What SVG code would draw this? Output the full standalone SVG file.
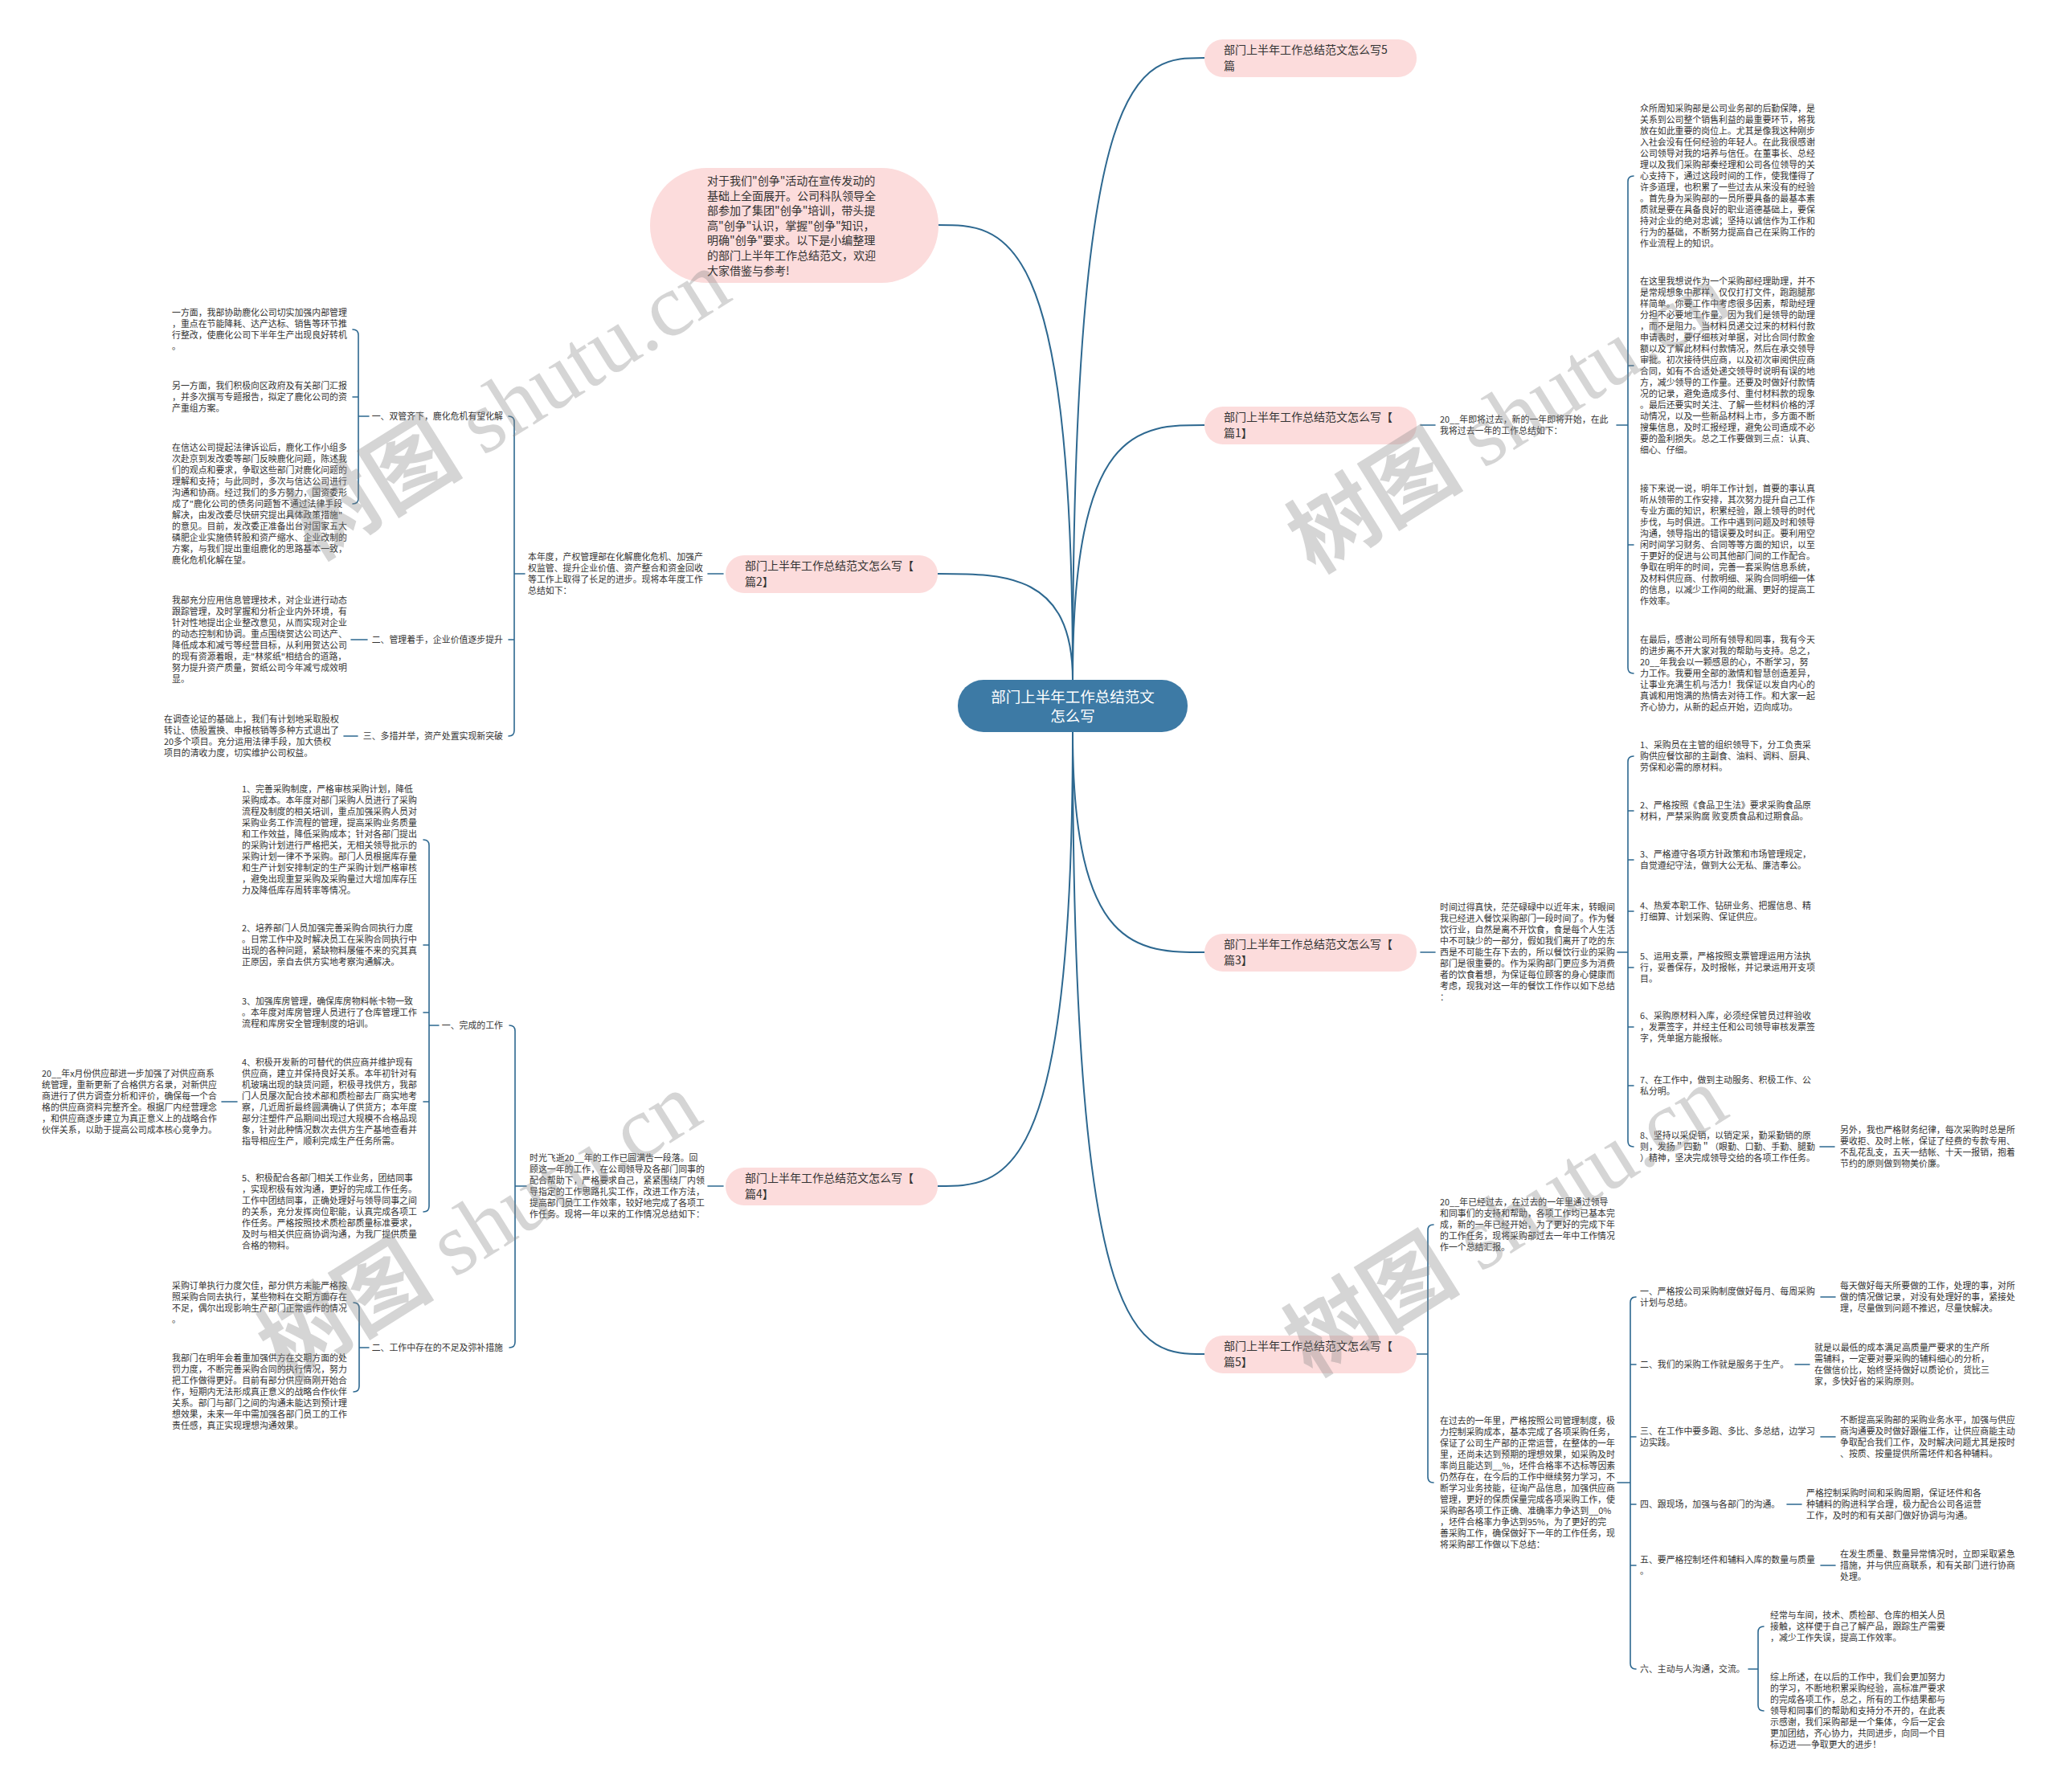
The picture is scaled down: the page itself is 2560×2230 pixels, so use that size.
<svg xmlns="http://www.w3.org/2000/svg" width="2560" height="2230" viewBox="0 0 2560 2230">
<style>
.t{font-family:"Noto Sans CJK SC","Noto Sans",sans-serif;font-size:10.9px;fill:#333}
.n{font-family:"Noto Sans CJK SC","Noto Sans",sans-serif;font-size:14px;fill:#333}
.c{font-family:"Noto Sans CJK SC","Noto Sans",sans-serif;font-size:18.5px;fill:#fff;text-anchor:middle}
.e{text-anchor:end}
.pk{fill:#fcdcdc}
.ln{fill:none;stroke:#2d6890;stroke-width:1.6;stroke-linecap:round}
.mn{fill:none;stroke:#2d6890;stroke-width:2}
.wm{font-size:110px;fill:#888;opacity:.35}
.wc{font-family:"Noto Sans CJK SC",sans-serif;font-weight:bold}
.ws{font-family:"Liberation Serif",serif}
</style>
<rect width="2560" height="2230" fill="#fff"/>
<g id="connectors">
<path class="mn" d="M1335 846 C1335 72 1417 72 1499 72"/>
<path class="mn" d="M1335 846 C1335 280 1251 280 1167 280"/>
<path class="mn" d="M1335 846 C1335 529 1417 529 1499 529"/>
<path class="mn" d="M1335 846 C1335 714 1251 714 1167 714"/>
<path class="mn" d="M1335 911 C1335 1185 1417 1185 1499 1185"/>
<path class="mn" d="M1335 911 C1335 1476 1251 1476 1167 1476"/>
<path class="mn" d="M1335 911 C1335 1685 1417 1685 1499 1685"/>
<path class="ln" d="M1768 529 L1786 529 M2012 529 L2026 529 M2033 219 Q2026 219 2026 226 L2026 831 Q2026 838 2033 838 M2026 455 L2033 455 M2026 678 L2033 678"/>
<path class="ln" d="M1768 1185 L1786 1185 M2013 1185 L2026 1185 M2033 941 Q2026 941 2026 948 L2026 1420 Q2026 1427 2033 1427 M2026 1009 L2033 1009 M2026 1070 L2033 1070 M2026 1134 L2033 1134 M2026 1204 L2033 1204 M2026 1278 L2033 1278 M2026 1351 L2033 1351 M2265 1427 L2283 1427"/>
<path class="ln" d="M1763 1685 L1777 1685 M1784 1524 Q1777 1524 1777 1531 L1777 1838 Q1777 1845 1784 1845 M2013 1845 L2029 1845 M2036 1614 Q2029 1614 2029 1621 L2029 2070 Q2029 2077 2036 2077 M2029 1698 L2036 1698 M2029 1788 L2036 1788 M2029 1872 L2036 1872 M2029 1948 L2036 1948 M2266 1614 L2284 1614 M2234 1698 L2252 1698 M2266 1788 L2284 1788 M2224 1872 L2242 1872 M2266 1948 L2284 1948 M2176 2077 L2188 2077 M2195 2024 Q2188 2024 2188 2031 L2188 2122 Q2188 2129 2195 2129"/>
<path class="ln" d="M881 714 L900 714 M640 714 L653 714 M633 518 Q640 518 640 525 L640 909 Q640 916 633 916 M640 796 L633 796 M446 518 L459 518 M439 410 Q446 410 446 417 L446 620 Q446 627 439 627 M446 494 L439 494 M437 796 L457 796 M428 916 L445 916"/>
<path class="ln" d="M881 1476 L900 1476 M641 1476 L655 1476 M634 1276 Q641 1276 641 1283 L641 1670 Q641 1677 634 1677 M534 1276 L546 1276 M527 1045 Q534 1045 534 1052 L534 1501 Q534 1508 527 1508 M534 1176 L527 1176 M534 1260 L527 1260 M534 1371 L527 1371 M276 1371 L295 1371 M447 1677 L459 1677 M440 1621 Q447 1621 447 1628 L447 1725 Q447 1732 440 1732"/>
</g>
<g id="center">
<rect x="1192" y="846" width="286" height="65" rx="32" fill="#3d7aa5"/>
<text class="c" x="1335" y="874">部门上半年工作总结范文</text>
<text class="c" x="1335" y="898">怎么写</text>
</g>
<g id="intro">
<rect class="pk" x="809" y="209" width="359" height="143" rx="71"/>
<text class="n" x="880" y="230"><tspan x="880">对于我们"创争"活动在宣传发动的</tspan><tspan x="880" dy="18.6">基础上全面展开。公司科队领导全</tspan><tspan x="880" dy="18.6">部参加了集团"创争"培训，带头提</tspan><tspan x="880" dy="18.6">高"创争"认识，掌握"创争"知识，</tspan><tspan x="880" dy="18.6">明确"创争"要求。以下是小编整理</tspan><tspan x="880" dy="18.6">的部门上半年工作总结范文，欢迎</tspan><tspan x="880" dy="18.6">大家借鉴与参考!</tspan></text>
</g>
<g id="p5top">
<rect class="pk" x="1499" y="49" width="264" height="47" rx="23"/>
<text class="n" x="1523" y="67"><tspan x="1523">部门上半年工作总结范文怎么写5</tspan><tspan x="1523" dy="20">篇</tspan></text>
</g>
<g id="p1">
<rect class="pk" x="1499" y="506" width="264" height="47" rx="23"/>
<text class="n" x="1523" y="524"><tspan x="1523">部门上半年工作总结范文怎么写【</tspan><tspan x="1523" dy="20">篇1】</tspan></text>
</g>
<g id="p1-intro">
<text class="t" x="1792" y="526"><tspan x="1792">20__年即将过去，新的一年即将开始，在此</tspan><tspan x="1792" dy="14">我将过去一年的工作总结如下：</tspan></text>
</g>
<g id="p1-b1">
<text class="t" x="2041" y="139"><tspan x="2041">众所周知采购部是公司业务部的后勤保障，是</tspan><tspan x="2041" dy="14">关系到公司整个销售利益的最重要环节，将我</tspan><tspan x="2041" dy="14">放在如此重要的岗位上。尤其是像我这种刚步</tspan><tspan x="2041" dy="14">入社会没有任何经验的年轻人。在此我很感谢</tspan><tspan x="2041" dy="14">公司领导对我的培养与信任。在董事长、总经</tspan><tspan x="2041" dy="14">理以及我们采购部秦经理和公司各位领导的关</tspan><tspan x="2041" dy="14">心支持下，通过这段时间的工作，使我懂得了</tspan><tspan x="2041" dy="14">许多道理，也积累了一些过去从来没有的经验</tspan><tspan x="2041" dy="14">。首先身为采购部的一员所要具备的最基本素</tspan><tspan x="2041" dy="14">质就是要在具备良好的职业道德基础上，要保</tspan><tspan x="2041" dy="14">持对企业的绝对忠诚；坚持以诚信作为工作和</tspan><tspan x="2041" dy="14">行为的基础，不断努力提高自己在采购工作的</tspan><tspan x="2041" dy="14">作业流程上的知识。</tspan></text>
</g>
<g id="p1-b2">
<text class="t" x="2041" y="354"><tspan x="2041">在这里我想说作为一个采购部经理助理，并不</tspan><tspan x="2041" dy="14">是常规想象中那样，仅仅打打文件，跑跑腿那</tspan><tspan x="2041" dy="14">样简单。你要工作中考虑很多因素，帮助经理</tspan><tspan x="2041" dy="14">分担不必要地工作量。因为我们是领导的助理</tspan><tspan x="2041" dy="14">，而不是阻力。当材料员递交过来的材料付款</tspan><tspan x="2041" dy="14">申请表时，要仔细核对单据，对比合同付款金</tspan><tspan x="2041" dy="14">额以及了解此材料付款情况，然后在承交领导</tspan><tspan x="2041" dy="14">审批。初次接待供应商，以及初次审阅供应商</tspan><tspan x="2041" dy="14">合同，如有不合适处递交领导时说明有误的地</tspan><tspan x="2041" dy="14">方，减少领导的工作量。还要及时做好付款情</tspan><tspan x="2041" dy="14">况的记录，避免造成多付、重付材料款的现象</tspan><tspan x="2041" dy="14">。最后还要实时关注、了解一些材料价格的浮</tspan><tspan x="2041" dy="14">动情况，以及一些新品材料上市，多方面不断</tspan><tspan x="2041" dy="14">搜集信息，及时汇报经理，避免公司造成不必</tspan><tspan x="2041" dy="14">要的盈利损失。总之工作要做到三点：认真、</tspan><tspan x="2041" dy="14">细心、仔细。</tspan></text>
</g>
<g id="p1-b3">
<text class="t" x="2041" y="612"><tspan x="2041">接下来说一说，明年工作计划，首要的事认真</tspan><tspan x="2041" dy="14">听从领带的工作安排，其次努力提升自己工作</tspan><tspan x="2041" dy="14">专业方面的知识，积累经验，跟上领导的时代</tspan><tspan x="2041" dy="14">步伐，与时俱进。工作中遇到问题及时和领导</tspan><tspan x="2041" dy="14">沟通，领导指出的错误要及时纠正。要利用空</tspan><tspan x="2041" dy="14">闲时间学习财务、合同等等方面的知识，以至</tspan><tspan x="2041" dy="14">于更好的促进与公司其他部门间的工作配合。</tspan><tspan x="2041" dy="14">争取在明年的时间，完善一套采购信息系统，</tspan><tspan x="2041" dy="14">及材料供应商、付款明细、采购合同明细一体</tspan><tspan x="2041" dy="14">的信息，以减少工作间的纰漏、更好的提高工</tspan><tspan x="2041" dy="14">作效率。</tspan></text>
</g>
<g id="p1-b4">
<text class="t" x="2041" y="800"><tspan x="2041">在最后，感谢公司所有领导和同事，我有今天</tspan><tspan x="2041" dy="14">的进步离不开大家对我的帮助与支持。总之，</tspan><tspan x="2041" dy="14">20__年我会以一颗感恩的心，不断学习，努</tspan><tspan x="2041" dy="14">力工作。我要用全部的激情和智慧创造差异，</tspan><tspan x="2041" dy="14">让事业充满生机与活力！我保证以发自内心的</tspan><tspan x="2041" dy="14">真诚和用饱满的热情去对待工作。和大家一起</tspan><tspan x="2041" dy="14">齐心协力，从新的起点开始，迈向成功。</tspan></text>
</g>
<g id="p2">
<rect class="pk" x="903" y="691" width="264" height="47" rx="23"/>
<text class="n" x="927" y="709"><tspan x="927">部门上半年工作总结范文怎么写【</tspan><tspan x="927" dy="20">篇2】</tspan></text>
</g>
<g id="p2-intro">
<text class="t" x="657" y="697"><tspan x="657">本年度，产权管理部在化解鹿化危机、加强产</tspan><tspan x="657" dy="14">权监管、提升企业价值、资产整合和资金回收</tspan><tspan x="657" dy="14">等工作上取得了长足的进步。现将本年度工作</tspan><tspan x="657" dy="14">总结如下：</tspan></text>
</g>
<g id="p2-l1"><text class="t e" x="626" y="522">一、双管齐下，鹿化危机有望化解</text></g>
<g id="p2-l2"><text class="t e" x="626" y="800">二、管理着手，企业价值逐步提升</text></g>
<g id="p2-l3"><text class="t e" x="626" y="920">三、多措并举，资产处置实现新突破</text></g>
<g id="p2-a">
<text class="t" x="214" y="393"><tspan x="214">一方面，我部协助鹿化公司切实加强内部管理</tspan><tspan x="214" dy="14">，重点在节能降耗、达产达标、销售等环节推</tspan><tspan x="214" dy="14">行整改，使鹿化公司下半年生产出现良好转机</tspan><tspan x="214" dy="14">。</tspan></text>
</g>
<g id="p2-b">
<text class="t" x="214" y="484"><tspan x="214">另一方面，我们积极向区政府及有关部门汇报</tspan><tspan x="214" dy="14">，并多次撰写专题报告，拟定了鹿化公司的资</tspan><tspan x="214" dy="14">产重组方案。</tspan></text>
</g>
<g id="p2-c">
<text class="t" x="214" y="561"><tspan x="214">在信达公司提起法律诉讼后，鹿化工作小组多</tspan><tspan x="214" dy="14">次赴京到发改委等部门反映鹿化问题，陈述我</tspan><tspan x="214" dy="14">们的观点和要求，争取这些部门对鹿化问题的</tspan><tspan x="214" dy="14">理解和支持；与此同时，多次与信达公司进行</tspan><tspan x="214" dy="14">沟通和协商。经过我们的多方努力，国资委形</tspan><tspan x="214" dy="14">成了"鹿化公司的债务问题暂不通过法律手段</tspan><tspan x="214" dy="14">解决，由发改委尽快研究提出具体政策措施"</tspan><tspan x="214" dy="14">的意见。目前，发改委正准备出台对国家五大</tspan><tspan x="214" dy="14">磷肥企业实施债转股和资产缩水、企业改制的</tspan><tspan x="214" dy="14">方案，与我们提出重组鹿化的思路基本一致，</tspan><tspan x="214" dy="14">鹿化危机化解在望。</tspan></text>
</g>
<g id="p2-d">
<text class="t" x="214" y="751"><tspan x="214">我部充分应用信息管理技术，对企业进行动态</tspan><tspan x="214" dy="14">跟踪管理，及时掌握和分析企业内外环境，有</tspan><tspan x="214" dy="14">针对性地提出企业整改意见，从而实现对企业</tspan><tspan x="214" dy="14">的动态控制和协调。重点围绕贺达公司达产、</tspan><tspan x="214" dy="14">降低成本和减亏等经营目标，从利用贺达公司</tspan><tspan x="214" dy="14">的现有资源着眼，走"林浆纸"相结合的道路，</tspan><tspan x="214" dy="14">努力提升资产质量，贺纸公司今年减亏成效明</tspan><tspan x="214" dy="14">显。</tspan></text>
</g>
<g id="p2-e">
<text class="t" x="204" y="899"><tspan x="204">在调查论证的基础上，我们有计划地采取股权</tspan><tspan x="204" dy="14">转让、债股置换、申报核销等多种方式退出了</tspan><tspan x="204" dy="14">20多个项目。充分运用法律手段，加大债权</tspan><tspan x="204" dy="14">项目的清收力度，切实维护公司权益。</tspan></text>
</g>
<g id="p3">
<rect class="pk" x="1499" y="1162" width="264" height="47" rx="23"/>
<text class="n" x="1523" y="1180"><tspan x="1523">部门上半年工作总结范文怎么写【</tspan><tspan x="1523" dy="20">篇3】</tspan></text>
</g>
<g id="p3-intro">
<text class="t" x="1792" y="1133"><tspan x="1792">时间过得真快，茫茫碌碌中以近年末，转眼间</tspan><tspan x="1792" dy="14">我已经进入餐饮采购部门一段时间了。作为餐</tspan><tspan x="1792" dy="14">饮行业，自然是离不开饮食，食是每个人生活</tspan><tspan x="1792" dy="14">中不可缺少的一部分，假如我们离开了吃的东</tspan><tspan x="1792" dy="14">西是不可能生存下去的，所以餐饮行业的采购</tspan><tspan x="1792" dy="14">部门是很重要的。作为采购部门更应多为消费</tspan><tspan x="1792" dy="14">者的饮食着想，为保证每位顾客的身心健康而</tspan><tspan x="1792" dy="14">考虑，现我对这一年的餐饮工作作以如下总结</tspan><tspan x="1792" dy="14">：</tspan></text>
</g>
<g id="p3-i1"><text class="t" x="2041" y="931"><tspan x="2041">1、采购员在主管的组织领导下，分工负责采</tspan><tspan x="2041" dy="14">购供应餐饮部的主副食、油料、调料、厨具、</tspan><tspan x="2041" dy="14">劳保和必需的原材料。</tspan></text></g>
<g id="p3-i2"><text class="t" x="2041" y="1006"><tspan x="2041">2、严格按照《食品卫生法》要求采购食品原</tspan><tspan x="2041" dy="14">材料，严禁采购腐 败变质食品和过期食品。</tspan></text></g>
<g id="p3-i3"><text class="t" x="2041" y="1067"><tspan x="2041">3、严格遵守各项方针政策和市场管理规定，</tspan><tspan x="2041" dy="14">自觉遵纪守法，做到大公无私、廉洁奉公。</tspan></text></g>
<g id="p3-i4"><text class="t" x="2041" y="1131"><tspan x="2041">4、热爱本职工作、钻研业务、把握信息、精</tspan><tspan x="2041" dy="14">打细算、计划采购、保证供应。</tspan></text></g>
<g id="p3-i5"><text class="t" x="2041" y="1194"><tspan x="2041">5、运用支票，严格按照支票管理运用方法执</tspan><tspan x="2041" dy="14">行，妥善保存，及时报帐，并记录运用开支项</tspan><tspan x="2041" dy="14">目。</tspan></text></g>
<g id="p3-i6"><text class="t" x="2041" y="1268"><tspan x="2041">6、采购原材料入库，必须经保管员过秤验收</tspan><tspan x="2041" dy="14">，发票签字，并经主任和公司领导审核发票签</tspan><tspan x="2041" dy="14">字，凭单据方能报帐。</tspan></text></g>
<g id="p3-i7"><text class="t" x="2041" y="1348"><tspan x="2041">7、在工作中，做到主动服务、积极工作、公</tspan><tspan x="2041" dy="14">私分明。</tspan></text></g>
<g id="p3-i8"><text class="t" x="2041" y="1417"><tspan x="2041">8、坚持以采促销，以销定采，勤采勤销的原</tspan><tspan x="2041" dy="14">则，发扬＂四勤＂（眼勤、口勤、手勤、腿勤</tspan><tspan x="2041" dy="14">）精神，坚决完成领导交给的各项工作任务。</tspan></text></g>
<g id="p3-i8c"><text class="t" x="2290" y="1410"><tspan x="2290">另外，我也严格财务纪律，每次采购时总是所</tspan><tspan x="2290" dy="14">要收拒、及时上帐，保证了经费的专款专用、</tspan><tspan x="2290" dy="14">不乱花乱支，五天一结帐、十天一报销，抱着</tspan><tspan x="2290" dy="14">节约的原则做到物美价廉。</tspan></text></g>
<g id="p4">
<rect class="pk" x="903" y="1453" width="264" height="47" rx="23"/>
<text class="n" x="927" y="1471"><tspan x="927">部门上半年工作总结范文怎么写【</tspan><tspan x="927" dy="20">篇4】</tspan></text>
</g>
<g id="p4-intro">
<text class="t" x="659" y="1445"><tspan x="659">时光飞逝20__年的工作已圆满告一段落。回</tspan><tspan x="659" dy="14">顾这一年的工作，在公司领导及各部门同事的</tspan><tspan x="659" dy="14">配合帮助下，严格要求自己，紧紧围绕厂内领</tspan><tspan x="659" dy="14">导指定的工作思路扎实工作，改进工作方法，</tspan><tspan x="659" dy="14">提高部门员工工作效率，较好地完成了各项工</tspan><tspan x="659" dy="14">作任务。现将一年以来的工作情况总结如下：</tspan></text>
</g>
<g id="p4-l1"><text class="t e" x="626" y="1280">一、完成的工作</text></g>
<g id="p4-l2"><text class="t e" x="626" y="1681">二、工作中存在的不足及弥补措施</text></g>
<g id="p4-i1"><text class="t" x="301" y="986"><tspan x="301">1、完善采购制度，严格审核采购计划，降低</tspan><tspan x="301" dy="14">采购成本。本年度对部门采购人员进行了采购</tspan><tspan x="301" dy="14">流程及制度的相关培训，重点加强采购人员对</tspan><tspan x="301" dy="14">采购业务工作流程的管理，提高采购业务质量</tspan><tspan x="301" dy="14">和工作效益，降低采购成本；针对各部门提出</tspan><tspan x="301" dy="14">的采购计划进行严格把关，无相关领导批示的</tspan><tspan x="301" dy="14">采购计划一律不予采购。部门人员根据库存量</tspan><tspan x="301" dy="14">和生产计划安排制定的生产采购计划严格审核</tspan><tspan x="301" dy="14">，避免出现重复采购及采购量过大增加库存压</tspan><tspan x="301" dy="14">力及降低库存周转率等情况。</tspan></text></g>
<g id="p4-i2"><text class="t" x="301" y="1159"><tspan x="301">2、培养部门人员加强完善采购合同执行力度</tspan><tspan x="301" dy="14">。日常工作中及时解决员工在采购合同执行中</tspan><tspan x="301" dy="14">出现的各种问题，紧缺物料屡催不来的究其真</tspan><tspan x="301" dy="14">正原因，亲自去供方实地考察沟通解决。</tspan></text></g>
<g id="p4-i3"><text class="t" x="301" y="1250"><tspan x="301">3、加强库房管理，确保库房物料帐卡物一致</tspan><tspan x="301" dy="14">。本年度对库房管理人员进行了仓库管理工作</tspan><tspan x="301" dy="14">流程和库房安全管理制度的培训。</tspan></text></g>
<g id="p4-i4"><text class="t" x="301" y="1326"><tspan x="301">4、积极开发新的可替代的供应商并维护现有</tspan><tspan x="301" dy="14">供应商，建立并保持良好关系。本年初针对有</tspan><tspan x="301" dy="14">机玻璃出现的缺货问题，积极寻找供方，我部</tspan><tspan x="301" dy="14">门人员屡次配合技术部和质检部去厂商实地考</tspan><tspan x="301" dy="14">察，几近周折最终圆满确认了供货方；本年度</tspan><tspan x="301" dy="14">部分注塑件产品期间出现过大规模不合格品现</tspan><tspan x="301" dy="14">象，针对此种情况数次去供方生产基地查看并</tspan><tspan x="301" dy="14">指导相应生产，顺利完成生产任务所需。</tspan></text></g>
<g id="p4-i4c"><text class="t" x="52" y="1340"><tspan x="52">20__年x月份供应部进一步加强了对供应商系</tspan><tspan x="52" dy="14">统管理，重新更新了合格供方名录，对新供应</tspan><tspan x="52" dy="14">商进行了供方调查分析和评价，确保每一个合</tspan><tspan x="52" dy="14">格的供应商资料完整齐全。根据厂内经营理念</tspan><tspan x="52" dy="14">，和供应商逐步建立为真正意义上的战略合作</tspan><tspan x="52" dy="14">伙伴关系，以助于提高公司成本核心竞争力。</tspan></text></g>
<g id="p4-i5"><text class="t" x="301" y="1470"><tspan x="301">5、积极配合各部门相关工作业务，团结同事</tspan><tspan x="301" dy="14">，实现积极有效沟通，更好的完成工作任务。</tspan><tspan x="301" dy="14">工作中团结同事，正确处理好与领导同事之间</tspan><tspan x="301" dy="14">的关系，充分发挥岗位职能，认真完成各项工</tspan><tspan x="301" dy="14">作任务。严格按照技术质检部质量标准要求，</tspan><tspan x="301" dy="14">及时与相关供应商协调沟通，为我厂提供质量</tspan><tspan x="301" dy="14">合格的物料。</tspan></text></g>
<g id="p4-j1"><text class="t" x="214" y="1604"><tspan x="214">采购订单执行力度欠佳，部分供方未能严格按</tspan><tspan x="214" dy="14">照采购合同去执行，某些物料在交期方面存在</tspan><tspan x="214" dy="14">不足，偶尔出现影响生产部门正常运作的情况</tspan><tspan x="214" dy="14">。</tspan></text></g>
<g id="p4-j2"><text class="t" x="214" y="1694"><tspan x="214">我部门在明年会着重加强供方在交期方面的处</tspan><tspan x="214" dy="14">罚力度，不断完善采购合同的执行情况，努力</tspan><tspan x="214" dy="14">把工作做得更好。目前有部分供应商刚开始合</tspan><tspan x="214" dy="14">作，短期内无法形成真正意义的战略合作伙伴</tspan><tspan x="214" dy="14">关系。部门与部门之间的沟通未能达到预计理</tspan><tspan x="214" dy="14">想效果，未来一年中需加强各部门员工的工作</tspan><tspan x="214" dy="14">责任感，真正实现理想沟通效果。</tspan></text></g>
<g id="p5">
<rect class="pk" x="1499" y="1662" width="264" height="47" rx="23"/>
<text class="n" x="1523" y="1680"><tspan x="1523">部门上半年工作总结范文怎么写【</tspan><tspan x="1523" dy="20">篇5】</tspan></text>
</g>
<g id="p5-a"><text class="t" x="1792" y="1500"><tspan x="1792">20__年已经过去，在过去的一年里通过领导</tspan><tspan x="1792" dy="14">和同事们的支持和帮助，各项工作均已基本完</tspan><tspan x="1792" dy="14">成，新的一年已经开始，为了更好的完成下年</tspan><tspan x="1792" dy="14">的工作任务，现将采购部过去一年中工作情况</tspan><tspan x="1792" dy="14">作一个总结汇报。</tspan></text></g>
<g id="p5-b"><text class="t" x="1792" y="1772"><tspan x="1792">在过去的一年里，严格按照公司管理制度，极</tspan><tspan x="1792" dy="14">力控制采购成本，基本完成了各项采购任务，</tspan><tspan x="1792" dy="14">保证了公司生产部的正常运营，在整体的一年</tspan><tspan x="1792" dy="14">里，还尚未达到预期的理想效果，如采购及时</tspan><tspan x="1792" dy="14">率尚且能达到__%，坯件合格率不达标等因素</tspan><tspan x="1792" dy="14">仍然存在，在今后的工作中继续努力学习，不</tspan><tspan x="1792" dy="14">断学习业务技能，征询产品信息，加强供应商</tspan><tspan x="1792" dy="14">管理，更好的保质保量完成各项采购工作，使</tspan><tspan x="1792" dy="14">采购部各项工作正确、准确率力争达到__0%</tspan><tspan x="1792" dy="14">，坯件合格率力争达到95%，为了更好的完</tspan><tspan x="1792" dy="14">善采购工作，确保做好下一年的工作任务，现</tspan><tspan x="1792" dy="14">将采购部工作做以下总结：</tspan></text></g>
<g id="p5-k1"><text class="t" x="2041" y="1611"><tspan x="2041">一、严格按公司采购制度做好每月、每周采购</tspan><tspan x="2041" dy="14">计划与总结。</tspan></text></g>
<g id="p5-k1c"><text class="t" x="2290" y="1604"><tspan x="2290">每天做好每天所要做的工作，处理的事，对所</tspan><tspan x="2290" dy="14">做的情况做记录，对没有处理好的事，紧接处</tspan><tspan x="2290" dy="14">理，尽量做到问题不推迟，尽量快解决。</tspan></text></g>
<g id="p5-k2"><text class="t" x="2041" y="1702">二、我们的采购工作就是服务于生产。</text></g>
<g id="p5-k2c"><text class="t" x="2258" y="1681"><tspan x="2258">就是以最低的成本满足高质量严要求的生产所</tspan><tspan x="2258" dy="14">需辅料，一定要对要采购的辅料细心的分析，</tspan><tspan x="2258" dy="14">在做信价比，始终坚持做好以质论价，货比三</tspan><tspan x="2258" dy="14">家，多快好省的采购原则。</tspan></text></g>
<g id="p5-k3"><text class="t" x="2041" y="1785"><tspan x="2041">三、在工作中要多跑、多比、多总结，边学习</tspan><tspan x="2041" dy="14">边实践。</tspan></text></g>
<g id="p5-k3c"><text class="t" x="2290" y="1771"><tspan x="2290">不断提高采购部的采购业务水平，加强与供应</tspan><tspan x="2290" dy="14">商沟通要及时做好跟催工作，让供应商能主动</tspan><tspan x="2290" dy="14">争取配合我们工作，及时解决问题尤其是按时</tspan><tspan x="2290" dy="14">、按质、按量提供所需坯件和各种辅料。</tspan></text></g>
<g id="p5-k4"><text class="t" x="2041" y="1876">四、跟现场，加强与各部门的沟通。</text></g>
<g id="p5-k4c"><text class="t" x="2248" y="1862"><tspan x="2248">严格控制采购时间和采购周期，保证坯件和各</tspan><tspan x="2248" dy="14">种辅料的购进科学合理，极力配合公司各运营</tspan><tspan x="2248" dy="14">工作，及时的和有关部门做好协调与沟通。</tspan></text></g>
<g id="p5-k5"><text class="t" x="2041" y="1945"><tspan x="2041">五、要严格控制坯件和辅料入库的数量与质量</tspan><tspan x="2041" dy="14">。</tspan></text></g>
<g id="p5-k5c"><text class="t" x="2290" y="1938"><tspan x="2290">在发生质量、数量异常情况时，立即采取紧急</tspan><tspan x="2290" dy="14">措施，并与供应商联系，和有关部门进行协商</tspan><tspan x="2290" dy="14">处理。</tspan></text></g>
<g id="p5-k6"><text class="t" x="2041" y="2081">六、主动与人沟通，交流。</text></g>
<g id="p5-k6a"><text class="t" x="2203" y="2014"><tspan x="2203">经常与车间，技术、质检部、仓库的相关人员</tspan><tspan x="2203" dy="14">接触，这样便于自己了解产品，跟踪生产需要</tspan><tspan x="2203" dy="14">，减少工作失误，提高工作效率。</tspan></text></g>
<g id="p5-k6b"><text class="t" x="2203" y="2091"><tspan x="2203">综上所述，在以后的工作中，我们会更加努力</tspan><tspan x="2203" dy="14">的学习，不断地积累采购经验，高标准严要求</tspan><tspan x="2203" dy="14">的完成各项工作，总之，所有的工作结果都与</tspan><tspan x="2203" dy="14">领导和同事们的帮助和支持分不开的，在此表</tspan><tspan x="2203" dy="14">示感谢，我们采购部是一个集体，今后一定会</tspan><tspan x="2203" dy="14">更加团结，齐心协力，共同进步，向同一个目</tspan><tspan x="2203" dy="14">标迈进——争取更大的进步！</tspan></text></g>
<g id="watermarks">
<text class="wm" transform="translate(391 699) rotate(-32)"><tspan class="wc">树图</tspan><tspan class="ws"> shutu.cn</tspan></text>
<text class="wm" transform="translate(1636 715) rotate(-32)"><tspan class="wc">树图</tspan><tspan class="ws"> shutu.cn</tspan></text>
<text class="wm" transform="translate(355 1722) rotate(-32)"><tspan class="wc">树图</tspan><tspan class="ws"> shutu.cn</tspan></text>
<text class="wm" transform="translate(1632 1715) rotate(-32)"><tspan class="wc">树图</tspan><tspan class="ws"> shutu.cn</tspan></text>
</g>
</svg>
